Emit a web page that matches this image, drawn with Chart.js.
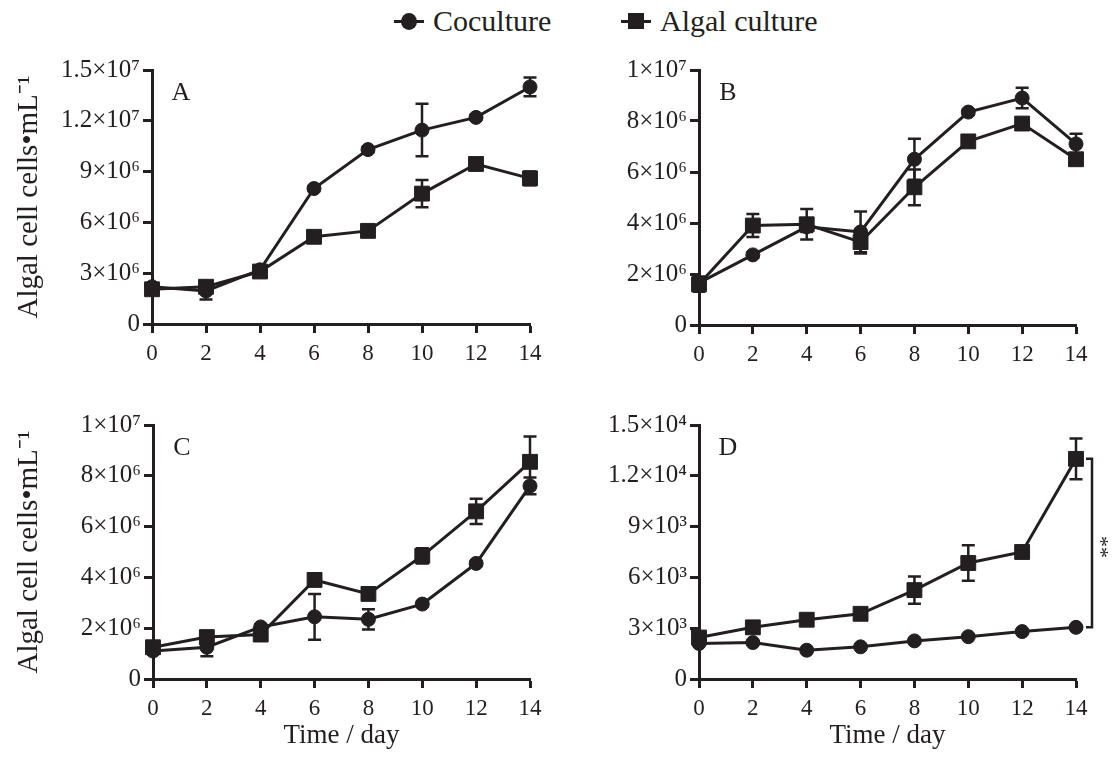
<!DOCTYPE html>
<html>
<head>
<meta charset="utf-8">
<script src="https://cdn.jsdelivr.net/npm/chart.js@4.4.0/dist/chart.umd.min.js"></script>
<style>
  body { margin: 0; background: #fff; width: 1113px; height: 760px; position: relative; overflow: hidden;
         font-family: 'Liberation Serif', 'Times New Roman', serif; color: #231f20; }
  .panel { position: absolute; }
  .legend-item { position: absolute; top: 4px; height: 34px; line-height: 34px; font-size: 30px; white-space: nowrap; }
  .mk { position: absolute; top: 0; width: 30px; height: 34px; }
  .mk .ln { position: absolute; left: 0; top: 16px; width: 30px; height: 3px; background: #231f20; }
  .mk .dot { position: absolute; left: 7px; top: 9px; width: 16px; height: 17px; border-radius: 50%; background: #231f20; }
  .mk .sq { position: absolute; left: 7px; top: 9px; width: 16px; height: 16px; background: #231f20; }
  .legend-item .txt { position: absolute; left: 39px; top: 0; }
</style>
</head>
<body>
<div class="legend-item" style="left:394px;"><span class="mk"><span class="ln"></span><span class="dot"></span></span><span class="txt">Coculture</span></div>
<div class="legend-item" style="left:621px;"><span class="mk"><span class="ln"></span><span class="sq"></span></span><span class="txt">Algal culture</span></div>

<div class="panel" style="left:0;top:40px;width:556px;height:340px;"><canvas id="chartA"></canvas></div>
<div class="panel" style="left:556px;top:40px;width:557px;height:340px;"><canvas id="chartB"></canvas></div>
<div class="panel" style="left:0;top:385px;width:556px;height:375px;"><canvas id="chartC"></canvas></div>
<div class="panel" style="left:556px;top:385px;width:557px;height:375px;"><canvas id="chartD"></canvas></div>

<script>
// Data (days 0..14)
const days = ['0', '2', '4', '6', '8', '10', '12', '14'];

// Panel A
const coA = [2.2e6, 1.95e6, 3.2e6, 8.0e6, 10.3e6, 11.45e6, 12.2e6, 14.0e6];
const coErrA = [0.2e6, 0.5e6, 0.15e6, 0.15e6, 0.15e6, 1.55e6, 0.15e6, 0.55e6];
const alA = [2.05e6, 2.2e6, 3.1e6, 5.15e6, 5.5e6, 7.7e6, 9.45e6, 8.6e6];
const alErrA = [0.2e6, 0.2e6, 0.15e6, 0.2e6, 0.2e6, 0.8e6, 0.2e6, 0.4e6];
const yTicksA = ['0', '3×10⁶', '6×10⁶', '9×10⁶', '1.2×10⁷', '1.5×10⁷'];

// Panel B
const coB = [1.65e6, 2.75e6, 3.85e6, 3.65e6, 6.5e6, 8.35e6, 8.9e6, 7.1e6];
const coErrB = [0.1e6, 0.1e6, 0.2e6, 0.8e6, 0.8e6, 0.1e6, 0.4e6, 0.4e6];
const alB = [1.6e6, 3.9e6, 3.95e6, 3.25e6, 5.4e6, 7.2e6, 7.9e6, 6.5e6];
const alErrB = [0.3e6, 0.45e6, 0.6e6, 0.45e6, 0.7e6, 0.2e6, 0.1e6, 0.2e6];
const yTicksB = ['0', '2×10⁶', '4×10⁶', '6×10⁶', '8×10⁶', '1×10⁷'];

// Panel C
const coC = [1.1e6, 1.25e6, 2.05e6, 2.45e6, 2.35e6, 2.95e6, 4.55e6, 7.6e6];
const coErrC = [0.1e6, 0.35e6, 0.1e6, 0.9e6, 0.4e6, 0.1e6, 0.1e6, 0.33e6];
const alC = [1.25e6, 1.65e6, 1.75e6, 3.9e6, 3.35e6, 4.85e6, 6.6e6, 8.55e6];
const alErrC = [0.2e6, 0.2e6, 0.2e6, 0.2e6, 0.2e6, 0.3e6, 0.5e6, 1.0e6];
const yTicksC = ['0', '2×10⁶', '4×10⁶', '6×10⁶', '8×10⁶', '1×10⁷'];

// Panel D
const coD = [2.1e3, 2.15e3, 1.7e3, 1.9e3, 2.25e3, 2.5e3, 2.8e3, 3.05e3];
const coErrD = [0.05e3, 0.05e3, 0.05e3, 0.05e3, 0.05e3, 0.05e3, 0.05e3, 0.05e3];
const alD = [2.45e3, 3.05e3, 3.5e3, 3.85e3, 5.25e3, 6.85e3, 7.5e3, 13.0e3];
const alErrD = [0.1e3, 0.1e3, 0.1e3, 0.1e3, 0.8e3, 1.05e3, 0.2e3, 1.2e3];
const yTicksD = ['0', '3×10³', '6×10³', '9×10³', '1.2×10⁴', '1.5×10⁴'];

const INK = '#231f20';
const FONT = "'Liberation Serif', 'Times New Roman', serif";

// error bars drawn under the markers
const errorBars = {
    id: 'errorBars',
    beforeDatasetsDraw(chart) {
        const ctx = chart.ctx;
        const x = chart.scales.x, y = chart.scales.y;
        ctx.save();
        ctx.strokeStyle = INK;
        ctx.lineWidth = 2.5;
        chart.data.datasets.forEach(ds => {
            ds.data.forEach((v, i) => {
                const e = ds.errors[i];
                const px = x.getPixelForValue(i);
                const top = y.getPixelForValue(v + e), bot = y.getPixelForValue(v - e);
                ctx.beginPath();
                ctx.moveTo(px, top); ctx.lineTo(px, bot);
                ctx.moveTo(px - 6.5, top); ctx.lineTo(px + 6.5, top);
                ctx.moveTo(px - 6.5, bot); ctx.lineTo(px + 6.5, bot);
                ctx.stroke();
            });
        });
        ctx.restore();
    }
};

// panel letter and optional significance bracket
const panelText = {
    id: 'panelText',
    afterDraw(chart, args, opts) {
        const ctx = chart.ctx;
        const a = chart.chartArea;
        ctx.save();
        ctx.fillStyle = INK;
        ctx.font = '26px ' + FONT;
        ctx.textAlign = 'center';
        ctx.textBaseline = 'middle';
        ctx.fillText(opts.letter, a.left + 29, a.top + 23);
        if (opts.bracket) {
            const x = chart.scales.x, y = chart.scales.y;
            const ds = chart.data.datasets;
            const last = ds[0].data.length - 1;
            const bx = x.getPixelForValue(last) + 16;
            const y1 = y.getPixelForValue(ds[1].data[last]);
            const y2 = y.getPixelForValue(ds[0].data[last]);
            ctx.strokeStyle = INK;
            ctx.lineWidth = 2.5;
            ctx.beginPath();
            ctx.moveTo(bx - 6, y1); ctx.lineTo(bx, y1); ctx.lineTo(bx, y2); ctx.lineTo(bx - 6, y2);
            ctx.stroke();
            ctx.translate(bx + 8, (y1 + y2) / 2 + 4);
            ctx.rotate(Math.PI / 2);
            ctx.font = '22px ' + FONT;
            ctx.fillText('**', 0, 0);
        }
        ctx.restore();
    }
};

function makePanel(id, letter, co, coErr, al, alErr, yMax, yStep, yTicks, layout) {
    const ctx = document.getElementById(id).getContext('2d');
    return new Chart(ctx, {
        type: 'line',
        data: {
            labels: days,
            datasets: [{
                label: 'Coculture',
                data: co,
                errors: coErr,
                borderColor: INK,
                backgroundColor: INK,
                borderWidth: 3,
                pointStyle: 'circle',
                pointRadius: 7,
                pointBorderWidth: 1,
                tension: 0,
                clip: false
            }, {
                label: 'Algal culture',
                data: al,
                errors: alErr,
                borderColor: INK,
                backgroundColor: INK,
                borderWidth: 3,
                pointStyle: 'rect',
                pointRadius: 10.5,
                pointBorderWidth: 1,
                tension: 0,
                clip: false
            }]
        },
        options: {
            responsive: true,
            maintainAspectRatio: false,
            animation: false,
            events: [],
            layout: { padding: { left: 0, top: layout.top, right: layout.right, bottom: 0 } },
            plugins: {
                legend: { display: false },
                tooltip: { enabled: false },
                panelText: { letter: letter, bracket: layout.bracket }
            },
            scales: {
                x: {
                    type: 'category',
                    offset: false,
                    grid: { drawOnChartArea: false, drawTicks: true, tickLength: 9, tickWidth: 3, tickColor: INK },
                    border: { display: true, color: INK, width: 3 },
                    ticks: { color: INK, font: { family: FONT, size: 23 }, padding: 7, maxRotation: 0, autoSkip: false },
                    title: {
                        display: layout.xTitle,
                        text: 'Time / day',
                        color: INK,
                        font: { family: FONT, size: 27 },
                        padding: { top: 0, bottom: 8 }
                    },
                    afterFit(scale) { scale.height = layout.xHeight; }
                },
                y: {
                    min: 0,
                    max: yMax,
                    grid: { drawOnChartArea: false, drawTicks: true, tickLength: 9, tickWidth: 3, tickColor: INK },
                    border: { display: true, color: INK, width: 3 },
                    ticks: {
                        stepSize: yStep,
                        color: INK,
                        font: { family: FONT, size: 25 },
                        padding: 3,
                        callback: (value, index) => yTicks[index]
                    },
                    title: {
                        display: layout.yTitle,
                        text: 'Algal cell cells•mL⁻¹',
                        color: INK,
                        font: { family: FONT, size: 29 },
                        padding: { top: 12, bottom: 0 }
                    },
                    afterFit(scale) { scale.width = layout.yWidth; }
                }
            }
        },
        plugins: [errorBars, panelText]
    });
}

makePanel('chartA', 'A', coA, coErrA, alA, alErrA, 1.5e7, 3e6, yTicksA,
    { top: 30, right: 26, yWidth: 152, xHeight: 56, yTitle: true, xTitle: false, bracket: false });
makePanel('chartB', 'B', coB, coErrB, alB, alErrB, 1e7, 2e6, yTicksB,
    { top: 30, right: 37, yWidth: 143, xHeight: 55, yTitle: false, xTitle: false, bracket: false });
makePanel('chartC', 'C', coC, coErrC, alC, alErrC, 1e7, 2e6, yTicksC,
    { top: 40, right: 26, yWidth: 153, xHeight: 81, yTitle: true, xTitle: true, bracket: false });
makePanel('chartD', 'D', coD, coErrD, alD, alErrD, 1.5e4, 3e3, yTicksD,
    { top: 40, right: 37, yWidth: 143, xHeight: 81, yTitle: false, xTitle: true, bracket: true });
</script>
</body>
</html>
